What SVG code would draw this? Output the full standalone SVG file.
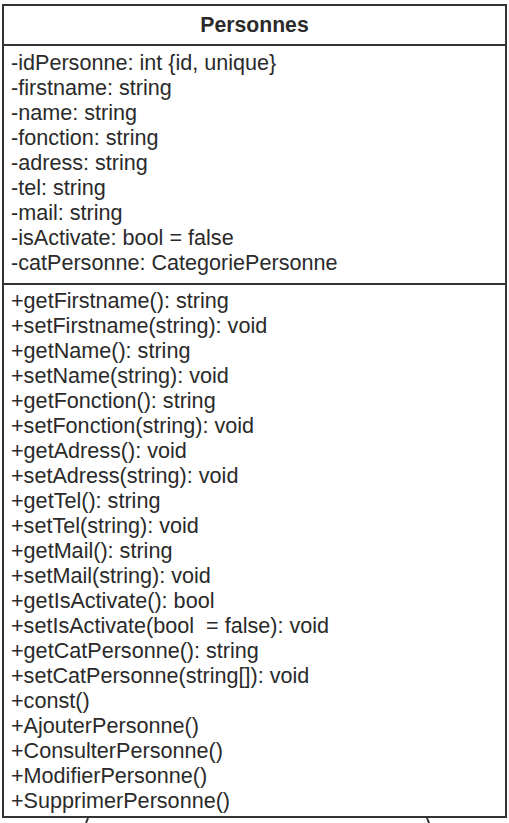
<svg xmlns="http://www.w3.org/2000/svg" width="509" height="823" viewBox="0 0 509 823">
<style>
.box{fill:#fff;stroke:#333;stroke-width:2}
.sep{stroke:#333;stroke-width:2}
.t{font-family:"Liberation Sans",Arial,sans-serif;font-size:21.6px;fill:#2a2a2a;white-space:pre}
.title{font-weight:bold;text-anchor:middle;font-size:21.2px}
.conn{fill:none;stroke:#333;stroke-width:2}
</style>
<rect width="509" height="823" fill="#fff"/>
<g id="Personnes">
<rect class="box" x="3" y="5" width="503" height="812"/>
<line class="sep" x1="3" y1="45" x2="506" y2="45"/>
<line class="sep" x1="3" y1="284" x2="506" y2="284"/>
<text class="t title" x="254.5" y="32">Personnes</text>
<g class="t">
<text x="11" y="69.5">-idPersonne: int {id, unique}</text>
<text x="11" y="94.5">-firstname: string</text>
<text x="11" y="119.5">-name: string</text>
<text x="11" y="144.5">-fonction: string</text>
<text x="11" y="169.5">-adress: string</text>
<text x="11" y="194.5">-tel: string</text>
<text x="11" y="219.5">-mail: string</text>
<text x="11" y="244.5">-isActivate: bool = false</text>
<text x="11" y="269.5">-catPersonne: CategoriePersonne</text>
<text x="11" y="307.5">+getFirstname(): string</text>
<text x="11" y="332.5">+setFirstname(string): void</text>
<text x="11" y="357.5">+getName(): string</text>
<text x="11" y="382.5">+setName(string): void</text>
<text x="11" y="407.5">+getFonction(): string</text>
<text x="11" y="432.5">+setFonction(string): void</text>
<text x="11" y="457.5">+getAdress(): void</text>
<text x="11" y="482.5">+setAdress(string): void</text>
<text x="11" y="507.5">+getTel(): string</text>
<text x="11" y="532.5">+setTel(string): void</text>
<text x="11" y="557.5">+getMail(): string</text>
<text x="11" y="582.5">+setMail(string): void</text>
<text x="11" y="607.5">+getIsActivate(): bool</text>
<text x="11" y="632.5">+setIsActivate(bool&#160; = false): void</text>
<text x="11" y="657.5">+getCatPersonne(): string</text>
<text x="11" y="682.5">+setCatPersonne(string[]): void</text>
<text x="11" y="707.5">+const()</text>
<text x="11" y="732.5">+AjouterPersonne()</text>
<text x="11" y="757.5">+ConsulterPersonne()</text>
<text x="11" y="782.5">+ModifierPersonne()</text>
<text x="11" y="807.5">+SupprimerPersonne()</text>
</g>
</g>
<g id="connectors">
<path class="conn" d="M88,818 L86,823"/>
<path class="conn" d="M427,818 L429,823"/>
</g>
</svg>
